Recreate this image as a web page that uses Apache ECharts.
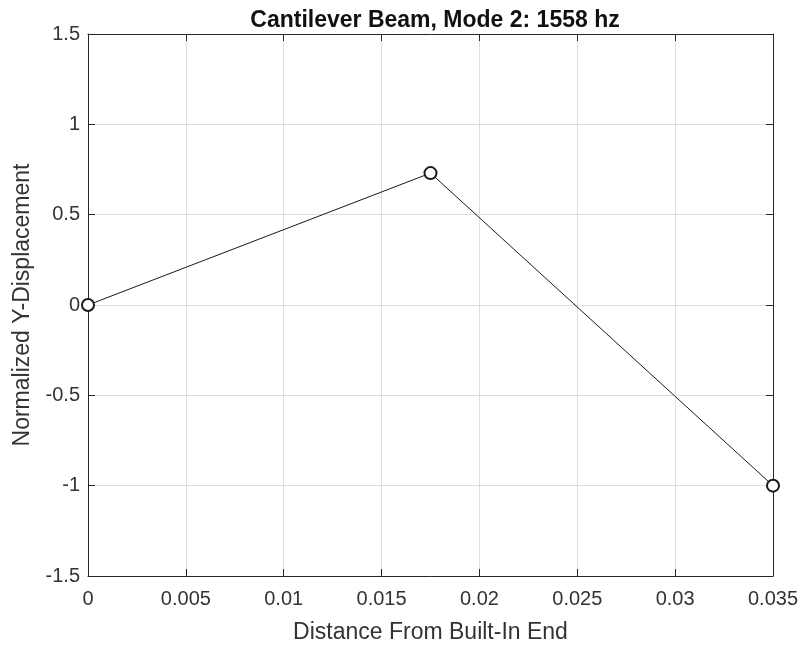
<!DOCTYPE html>
<html>
<head>
<meta charset="utf-8">
<script src="https://cdn.jsdelivr.net/npm/echarts@6/dist/echarts.min.js"></script>
<style>
  html, body { margin: 0; padding: 0; background: #fff; }
  #chart { width: 802px; height: 645px; }
</style>
</head>
<body>
<div id="chart"></div>
<script>
// Node positions along the beam and the normalized mode-2 deflection
const distance = [0, 0.0175, 0.035];
const displacement = [0, 0.73, -1];
const xTicks = [0, 0.005, 0.01, 0.015, 0.02, 0.025, 0.03, 0.035];
const yTicks = [-1.5, -1, -0.5, 0, 0.5, 1, 1.5];

const font = 'Liberation Sans, Arial, Helvetica, sans-serif';
const axisColor = '#262626';
const textColor = '#333333';

const chart = echarts.init(document.getElementById('chart'), null, { renderer: 'canvas' });

function xAxisDef(pos, showLabels) {
  return {
    type: 'value', position: pos,
    min: xTicks[0], max: xTicks[xTicks.length - 1], interval: 0.005,
    axisLine: { show: true, onZero: false, lineStyle: { color: axisColor, width: 1 } },
    axisTick: { show: true, inside: true, length: 7, lineStyle: { color: axisColor } },
    axisLabel: {
      show: showLabels, color: textColor, fontFamily: font, fontSize: 20, margin: 13,
      formatter: v => String(parseFloat(v.toFixed(4)))
    },
    splitLine: { show: showLabels, lineStyle: { color: '#dedede', width: 1 } },
    name: showLabels ? 'Distance From Built-In End' : '',
    nameLocation: 'middle', nameGap: 45,
    nameTextStyle: { color: textColor, fontFamily: font, fontSize: 23 }
  };
}

function yAxisDef(pos, showLabels) {
  return {
    type: 'value', position: pos,
    min: yTicks[0], max: yTicks[yTicks.length - 1], interval: 0.5,
    axisLine: { show: true, onZero: false, lineStyle: { color: axisColor, width: 1 } },
    axisTick: { show: true, inside: true, length: 7, lineStyle: { color: axisColor } },
    axisLabel: {
      show: showLabels, color: textColor, fontFamily: font, fontSize: 20, margin: 8,
      formatter: v => String(v)
    },
    splitLine: { show: showLabels, lineStyle: { color: '#dedede', width: 1 } },
    name: showLabels ? 'Normalized Y-Displacement' : '',
    nameLocation: 'middle', nameGap: 48,
    nameTextStyle: { color: textColor, fontFamily: font, fontSize: 23 }
  };
}

chart.setOption({
  animation: false,
  backgroundColor: '#ffffff',
  title: {
    text: 'Cantilever Beam, Mode 2: 1558 hz',
    left: 430, top: 4, textAlign: 'center',
    textStyle: { color: '#111', fontFamily: font, fontSize: 23, fontWeight: 'bold' }
  },
  grid: {
    left: 88, top: 34, right: 29, bottom: 69,
    containLabel: false, outerBoundsMode: 'none'
  },
  xAxis: [xAxisDef('bottom', true), xAxisDef('top', false)],
  yAxis: [yAxisDef('left', true), yAxisDef('right', false)],
  series: [{
    type: 'line',
    xAxisIndex: 0, yAxisIndex: 0,
    data: distance.map((d, i) => [d, displacement[i]]),
    symbol: 'emptyCircle', symbolSize: 12,
    lineStyle: { color: '#1a1a1a', width: 1 },
    itemStyle: { color: '#1a1a1a', borderColor: '#1a1a1a', borderWidth: 1 },
    clip: false
  }]
});
</script>
</body>
</html>
